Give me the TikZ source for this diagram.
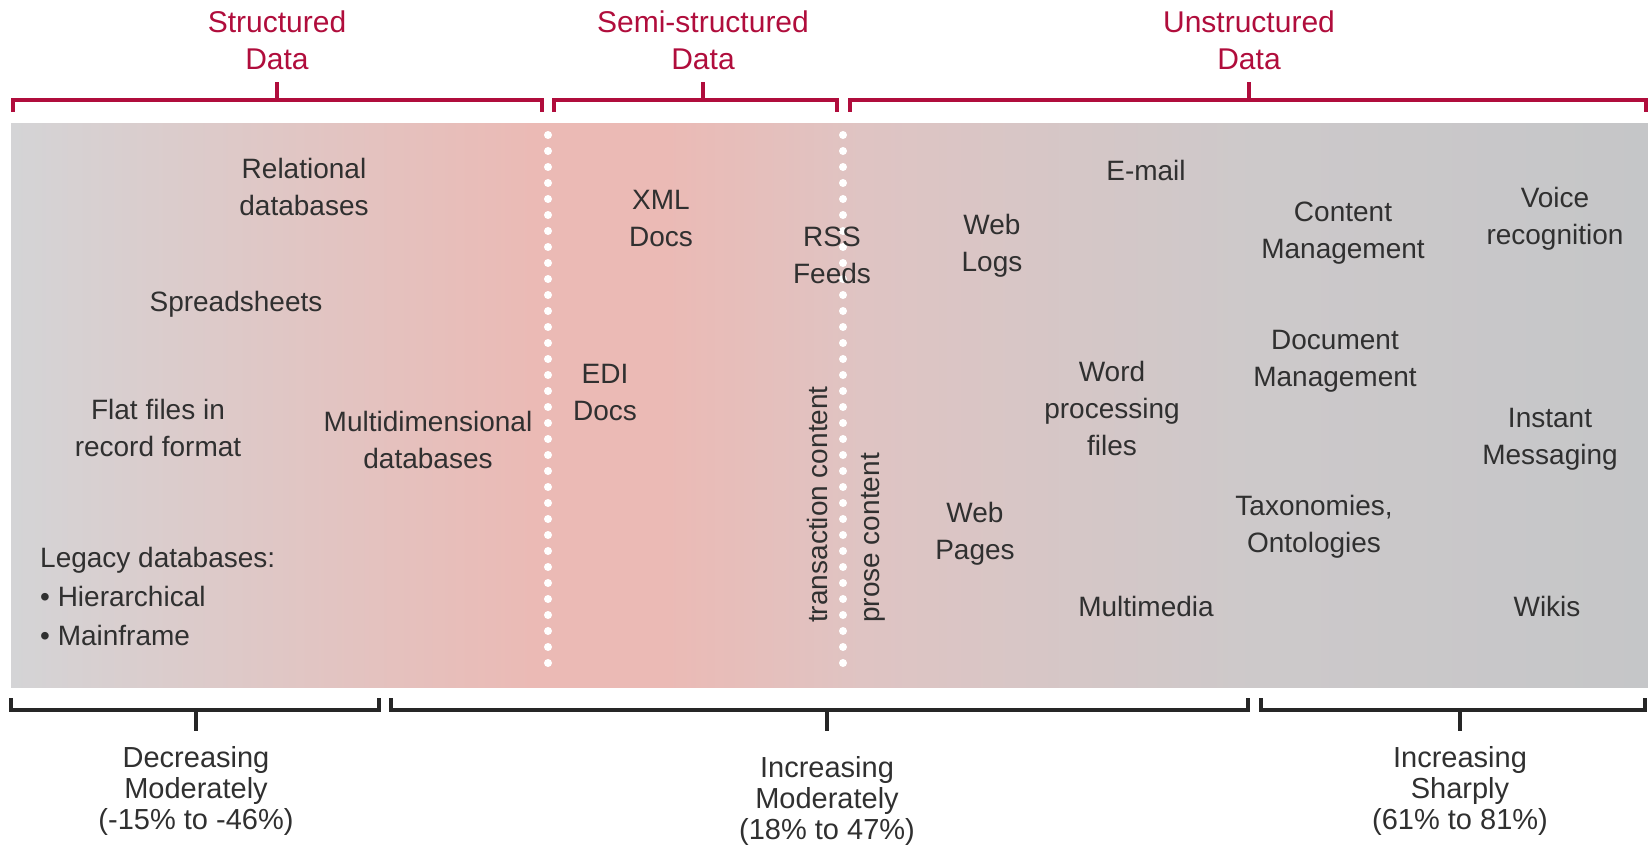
\documentclass[tikz,border=0pt]{standalone}
\usepackage{fontspec}
\setmainfont{Liberation Sans}
\usepackage{xcolor}
\usetikzlibrary{positioning}
\definecolor{datared}{HTML}{B00D3C}
\definecolor{datatext}{HTML}{303030}
\definecolor{bandleft}{HTML}{D4D4D6}
\definecolor{bandpink}{HTML}{EBBAB5}
\definecolor{bandmid}{HTML}{DFC4C3}
\definecolor{bandgrey}{HTML}{CDC9CA}
\definecolor{bandright}{HTML}{C5C6C8}
\pgfdeclarehorizontalshading{databand}{100bp}{color(0bp)=(bandleft); color(25bp)=(bandleft); color(41bp)=(bandpink); color(45bp)=(bandpink); color(51bp)=(bandmid); color(63bp)=(bandgrey); color(75bp)=(bandright); color(100bp)=(bandright)}
\tikzset{
  item/.style={text=datatext, align=center, inner sep=0pt, font={\fontsize{28}{37}\selectfont}},
  title/.style={text=datared, align=center, inner sep=0pt, font={\fontsize{30}{37}\selectfont}},
  trend/.style={text=datatext, align=center, inner sep=0pt, font={\fontsize{29}{31}\selectfont}},
  topbrace/.style={datared, line width=4pt},
  lowbrace/.style={black!85, line width=4pt},
  dotline/.style={white, line width=8pt, line cap=round, dash pattern=on 0pt off 16pt}
}
\begin{document}
\begin{tikzpicture}[x=1pt, y=-1pt]
        \useasboundingbox (0,0) rectangle (1648,845);
        \path[shading=databand] (11,124) rectangle (1648,687);
        \draw[dotline] (548,135) -- (548,676);
        \draw[dotline] (843,135) -- (843,676);
        \node[title] (structured) at (277,40) {Structured\\Data};
        \node[title] (semi) at (703,40) {Semi-structured\\Data};
        \node[title] (unstructured) at (1249,40) {Unstructured\\Data};
        \draw[topbrace] (13,112) -- (13,100) -- (542,100) -- (542,112);
        \draw[topbrace] (277,100) -- (277,82);
        \draw[topbrace] (554,112) -- (554,100) -- (837,100) -- (837,112);
        \draw[topbrace] (703,100) -- (703,82);
        \draw[topbrace] (850,112) -- (850,100) -- (1646,100) -- (1646,112);
        \draw[topbrace] (1249,100) -- (1249,82);
        \node[item] (reldb) at (304,187) {Relational\\databases};
        \node[item] (sheets) at (236,304) {Spreadsheets};
        \node[item] (flat) at (158,428) {Flat files in\\record format};
        \node[item] (multidb) at (428,440) {Multidimensional\\databases};
        \node[item, align=left, anchor=west, font={\fontsize{28}{39}\selectfont}] (legacy) at (40,596)
            {Legacy databases:\\\textbullet\ Hierarchical\\\textbullet\ Mainframe};
        \node[item] (xml) at (661,219) {XML\\Docs};
        \node[item] (edi) at (605,393) {EDI\\Docs};
        \node[item] (rss) at (832,255) {RSS\\Feeds};
        \node[item, rotate=90, anchor=west] (transaction) at (817,623) {transaction content};
        \node[item, rotate=90, anchor=west] (prose) at (873,623) {prose content};
        \node[item] (weblogs) at (992,246) {Web\\Logs};
        \node[item] (email) at (1146,170) {E-mail};
        \node[item] (word) at (1112,408) {Word\\processing\\files};
        \node[item] (webpages) at (975,534) {Web\\Pages};
        \node[item] (multimedia) at (1146,606) {Multimedia};
        \node[item] (content) at (1343,233) {Content\\Management};
        \node[item] (docmgmt) at (1335,361) {Document\\Management};
        \node[item] (taxonomy) at (1314,527) {Taxonomies,\\Ontologies};
        \node[item] (voice) at (1555,219) {Voice\\recognition};
        \node[item] (instant) at (1550,439) {Instant\\Messaging};
        \node[item] (wikis) at (1547,606) {Wikis};
        \draw[lowbrace] (11,698) -- (11,710) -- (379,710) -- (379,698);
        \draw[lowbrace] (196,710) -- (196,731);
        \draw[lowbrace] (391,698) -- (391,710) -- (1248,710) -- (1248,698);
        \draw[lowbrace] (827,710) -- (827,731);
        \draw[lowbrace] (1261,698) -- (1261,710) -- (1645,710) -- (1645,698);
        \draw[lowbrace] (1460,710) -- (1460,731);
        \node[trend] (decrease) at (196,791) {Decreasing\\Moderately\\(-15\% to -46\%)};
        \node[trend] (moderate) at (827,801) {Increasing\\Moderately\\(18\% to 47\%)};
        \node[trend] (sharp) at (1460,791) {Increasing\\Sharply\\(61\% to 81\%)};
    \end{tikzpicture}
\end{document}
